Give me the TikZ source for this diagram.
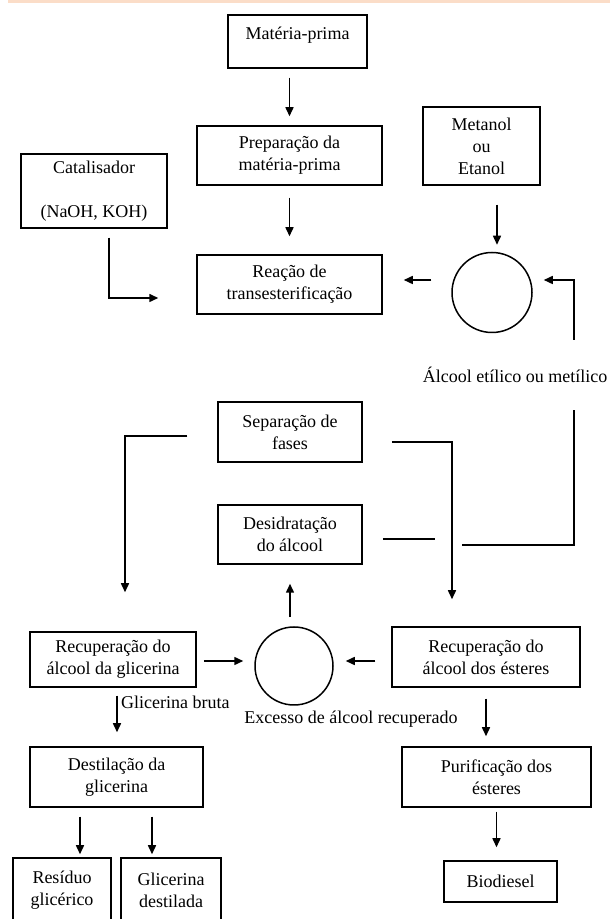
\documentclass[tikz,border=0pt]{standalone}
\usepackage{fontspec}
\setmainfont{Liberation Serif}
\usetikzlibrary{arrows.meta}
\definecolor{band}{RGB}{251,221,200}
\tikzset{>={Triangle[length=9pt,width=8pt]}}
\tikzstyle{blk}=[draw,line width=1.5pt,align=center,inner sep=0pt]
\tikzstyle{ring}=[draw,circle,line width=1.5pt,inner sep=0pt]
\tikzstyle{flow}=[->,line width=1.5pt]
\tikzstyle{pipe}=[line width=1.5pt]

\begin{document}
\begin{tikzpicture}[x=1pt,y=1pt,font=\fontsize{18}{22}\selectfont]
  \useasboundingbox (0,0) rectangle (610,919);
  \clip (0,0) rectangle (610,919);
  \fill[band] (8,916) rectangle (610,919);
  % blocos
  \node[blk,minimum width=139pt,minimum height=53pt,text depth=17pt] (materia) at (297.5,877.5) {Matéria-prima};
  \node[blk,minimum width=185pt,minimum height=59pt] (prep) at (289.5,763.5) {Preparação da\\matéria-prima};
  \node[blk,minimum width=117pt,minimum height=78pt] (metanol) at (481.5,773) {Metanol\\ou\\Etanol};
  \node[blk,minimum width=146pt,minimum height=74pt] (catal) at (94,728) {Catalisador\\[22pt](NaOH, KOH)};
  \node[blk,minimum width=185pt,minimum height=59pt] (reacao) at (289.5,634.5) {Reação de\\transesterificação};
  \node[ring,minimum size=80pt] (alc) at (492,626.5) {};
  \node (alclabel) at (515,544) {Álcool etílico ou metílico};
  \node[blk,minimum width=144pt,minimum height=60pt] (sep) at (290,487) {Separação de\\fases};
  \node[blk,minimum width=144pt,minimum height=59pt] (desid) at (290,384.5) {Desidratação\\do álcool};
  \node[blk,minimum width=166pt,minimum height=55pt] (recglic) at (113,259.5) {Recuperação do\\álcool da glicerina};
  \node[ring,minimum size=78pt] (circ2) at (294,253) {};
  \node (excesso) at (351,200) {Excesso de álcool recuperado};
  \node[blk,minimum width=188pt,minimum height=60pt] (recest) at (486,262) {Recuperação do\\álcool dos ésteres};
  \node[blk,minimum width=173pt,minimum height=60pt] (destil) at (116.5,142) {Destilação da\\glicerina};
  \node[blk,minimum width=189pt,minimum height=60pt] (purif) at (496.5,142) {Purificação dos\\ésteres};
  \node[blk,minimum width=98pt,minimum height=64pt] (residuo) at (62,29) {Resíduo\\glicérico};
  \node[blk,minimum width=100pt,minimum height=64pt] (glicdest) at (171,29) {Glicerina\\destilada};
  \node[blk,minimum width=113pt,minimum height=41pt] (bio) at (500.5,37.5) {Biodiesel};
  % retorno do alcool
  \coordinate (r1) at (462,374);
  \coordinate (r2) at (574,509);
  \coordinate (r3) at (574,579);
  % setas
  \draw[flow,shorten <=9pt,shorten >=9pt] (prep.north |- materia.south) -- (prep.north);
  \draw[flow,shorten <=12pt,shorten >=18pt] (prep.south) -- (reacao.north);
  \draw[flow,shorten <=19pt,shorten >=7pt] ([xshift=5pt]alc.north |- metanol.south) -- ([xshift=5pt]alc.north);
  \draw[flow] ([xshift=15pt,yshift=-9pt]catal.south) |- ([xshift=-38pt,yshift=-13.5pt]reacao.west);
  \draw[flow] ([xshift=-20pt,yshift=12.5pt]alc.west) -- ([xshift=21pt,yshift=4.5pt]reacao.east);
  \draw[pipe] ([xshift=20pt,yshift=-4.5pt]desid.east) -- ++(52,0);
  \draw[pipe] (r1) -| (r2);
  \draw[flow] (r3) |- ([xshift=11pt,yshift=12.5pt]alc.east);
  \draw[flow] ([xshift=-30pt,yshift=-4pt]sep.west) -| ([xshift=12pt,yshift=39pt]recglic.north);
  \draw[flow] ([xshift=29pt,yshift=-10pt]sep.east) -| ([xshift=-34pt,yshift=27pt]recest.north);
  \draw[flow,shorten <=9pt,shorten >=19pt] (desid.south |- circ2.north) -- (desid.south);
  \draw[flow,shorten <=7pt,shorten >=11pt] ([yshift=-1.5pt]recglic.east) -- ([yshift=5pt]circ2.west);
  \draw[flow,shorten <=16pt,shorten >=12pt] ([yshift=-4pt]recest.west) -- ([yshift=5pt]circ2.east);
  \draw[flow,shorten <=8pt,shorten >=14pt] ([xshift=4pt]recglic.south) -- ([xshift=4pt]recglic.south |- destil.north)
    node[pos=0.25,right] (bruta) {Glicerina bruta};
  \draw[flow,shorten <=11pt,shorten >=10pt] (recest.south) -- (recest.south |- purif.north);
  \draw[flow,shorten <=9pt,shorten >=3pt] ([xshift=-36.5pt]destil.south) -- ([xshift=18pt]residuo.north);
  \draw[flow,shorten <=9pt,shorten >=3pt] ([xshift=35.5pt]destil.south) -- ([xshift=-19pt]glicdest.north);
  \draw[flow,shorten <=4pt,shorten >=13pt] (purif.south) -- (purif.south |- bio.north);
\end{tikzpicture}
\end{document}
